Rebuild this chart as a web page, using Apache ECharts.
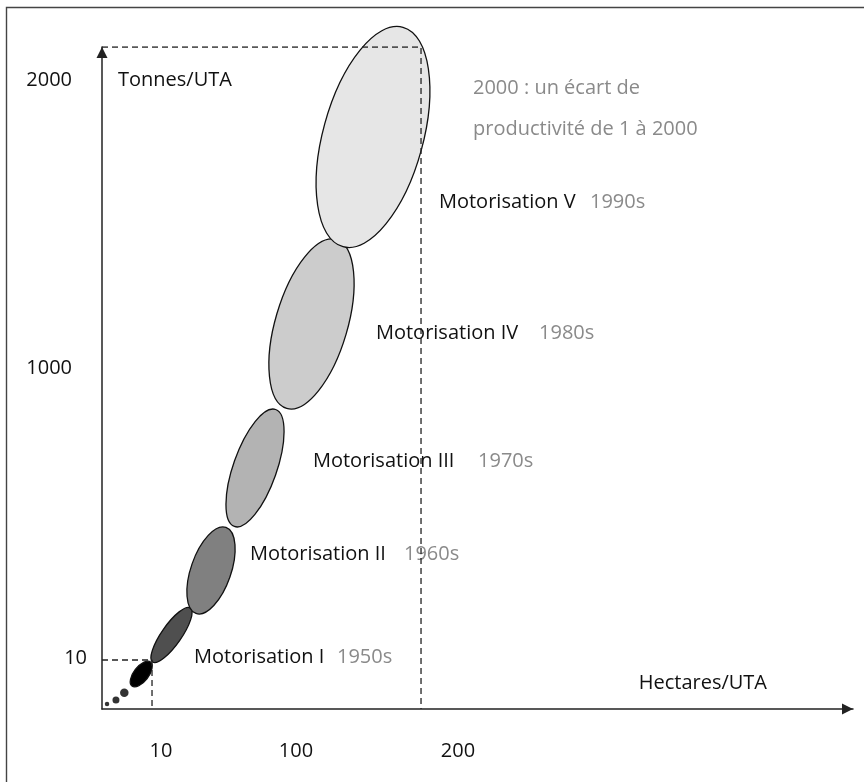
<!DOCTYPE html>
<html>
<head>
<meta charset="utf-8">
<script src="https://cdn.jsdelivr.net/npm/echarts@6.0.0/dist/echarts.min.js"></script>
<style>
  html, body { margin: 0; padding: 0; background: #fff; }
  #chart { width: 864px; height: 782px; }
</style>
</head>
<body>
<div id="chart"></div>
<script>
// diagram units: x = Hectares/UTA, y = Tonnes/UTA (schematic, 0..100 on each axis)
const stages = ['Motorisation I', 'Motorisation II', 'Motorisation III', 'Motorisation IV', 'Motorisation V'];
const decades = ['1950s', '1960s', '1970s', '1980s', '1990s'];

// each stage spreads along its long axis, from the low end to the high end
const stageFrom = [[6.74, 7.10], [12.52, 14.43], [17.63, 27.57], [24.59, 45.41], [32.09, 69.83]];
const stageTo = [[11.77, 15.26], [16.51, 27.42], [23.12, 45.24], [31.20, 70.91], [40.08, 102.98]];

// before motorisation: three dots and a small black ellipse
const earlyDots = [[0.67, 0.76], [1.86, 1.36], [2.97, 2.46]];
const earlyFrom = [3.99, 3.47];
const earlyTo = [6.46, 7.10];

// dashed guides: 1950s corner and 2000 corner
const corner1950 = [6.66, 7.40];
const corner2000 = [42.48, 100];

// tick labels
const xTickValues = [7.86, 25.83, 47.40];
const xTickLabels = ['10', '100', '200'];
const yTickValues = [7.7, 51.5, 95.0];
const yTickLabels = ['10', '1000', '2000'];

// ---- styles / layout ----
const FONT = 'Open Sans';
const ellipseFill = ['#000000', '#4f4f4f', '#808080', '#b3b3b3', '#cccccc', '#e6e6e6'];
const ellipseThickness = [0.49, 0.30, 0.44, 0.35, 0.41, 0.44]; // minor / major
const dotSizes = [4.5, 7, 8.5];
// where each label sits (name start, year start, vertical middle), diagram units
const labelAnchors = [
  [12.25, 31.29, 7.85],
  [19.71, 40.21, 23.41],
  [28.09, 50.07, 37.46],
  [36.48, 58.19, 56.80],
  [44.87, 64.98, 76.59]
];

const ellipseData = [earlyFrom.concat(earlyTo)].concat(
  stageFrom.map((p, i) => p.concat(stageTo[i]))
);

const chart = echarts.init(document.getElementById('chart'));

const option = {
  backgroundColor: '#fff',
  animation: false,
  textStyle: { fontFamily: FONT },
  grid: { left: 102, right: 11, top: 47, bottom: 73, containLabel: false, outerBoundsMode: 'none' },
  xAxis: {
    type: 'value',
    min: 0,
    max: 100,
    axisLine: {
      show: true,
      symbol: ['none', 'triangle'],
      symbolSize: [11, 11],
      symbolOffset: [0, -5.5],
      lineStyle: { color: '#222', width: 1.5 }
    },
    axisTick: { show: false },
    splitLine: { show: false },
    axisLabel: {
      customValues: xTickValues,
      margin: 32,
      fontFamily: FONT,
      fontSize: 20,
      color: '#111',
      formatter: v => xTickLabels[xTickValues.indexOf(v)]
    }
  },
  yAxis: {
    type: 'value',
    min: 0,
    max: 100,
    name: 'Tonnes/UTA',
    nameLocation: 'end',
    nameGap: -33,
    nameMoveOverlap: false,
    nameTextStyle: { fontFamily: FONT, fontSize: 20, color: '#111', align: 'left', verticalAlign: 'middle', padding: [0, 0, 0, 16] },
    axisLine: {
      show: true,
      symbol: ['none', 'triangle'],
      symbolSize: [11, 11],
      symbolOffset: [0, -5.5],
      lineStyle: { color: '#222', width: 1.5 }
    },
    axisTick: { show: false },
    splitLine: { show: false },
    axisLabel: {
      customValues: yTickValues,
      margin: 15,
      fontFamily: FONT,
      fontSize: 20,
      color: '#111',
      formatter: v => {
        const t = yTickLabels[yTickValues.indexOf(v)];
        return t.length > 2 ? '{wide|' + t + '}' : t;
      },
      rich: {
        wide: { fontFamily: FONT, fontSize: 20, color: '#111', padding: [0, 15, 0, 0] }
      }
    }
  },
  graphic: [
    {
      type: 'rect',
      silent: true,
      shape: { x: 6.5, y: 7.5, width: 1000, height: 1000 },
      style: { fill: 'none', stroke: '#444', lineWidth: 1.4 }
    },
    {
      type: 'text',
      x: 767, y: 683,
      style: { text: 'Hectares/UTA', font: '20px "Open Sans"', fill: '#111', textAlign: 'right', textVerticalAlign: 'middle' }
    },
    {
      type: 'text',
      x: 473, y: 88,
      style: { text: '2000 : un écart de', font: '20px "Open Sans"', fill: '#8a8a8a', textVerticalAlign: 'middle' }
    },
    {
      type: 'text',
      x: 473, y: 129,
      style: { text: 'productivité de 1 à 2000', font: '20px "Open Sans"', fill: '#8a8a8a', textVerticalAlign: 'middle' }
    }
  ],
  series: [
    {
      type: 'custom',
      name: 'stages',
      z: 2,
      data: ellipseData,
      renderItem: function (params, api) {
        const i = params.dataIndex;
        const p0 = api.coord([api.value(0), api.value(1)]);
        const p1 = api.coord([api.value(2), api.value(3)]);
        const dx = p1[0] - p0[0];
        const dy = p1[1] - p0[1];
        const half = Math.sqrt(dx * dx + dy * dy) / 2;
        return {
          type: 'ellipse',
          x: (p0[0] + p1[0]) / 2,
          y: (p0[1] + p1[1]) / 2,
          rotation: -Math.atan2(dy, dx),
          shape: { cx: 0, cy: 0, rx: half, ry: half * ellipseThickness[i] },
          style: { fill: ellipseFill[i], stroke: '#111', lineWidth: 1.3 }
        };
      }
    },
    {
      type: 'scatter',
      name: 'early',
      z: 2,
      data: earlyDots,
      symbol: 'circle',
      symbolSize: (val, p) => dotSizes[p.dataIndex],
      itemStyle: { color: '#000' }
    },
    {
      type: 'custom',
      name: 'labels',
      z: 3,
      data: stages.map((s, i) => [i]),
      renderItem: function (params, api) {
        const i = params.dataIndex;
        const a = labelAnchors[i];
        const pName = api.coord([a[0], a[2]]);
        const pYear = api.coord([a[1], a[2]]);
        return {
          type: 'group',
          children: [
            {
              type: 'text',
              x: pName[0], y: pName[1],
              style: { text: stages[i], font: '20px "Open Sans"', fill: '#111', textVerticalAlign: 'middle' }
            },
            {
              type: 'text',
              x: pYear[0], y: pYear[1],
              style: { text: decades[i], font: '20px "Open Sans"', fill: '#8a8a8a', textVerticalAlign: 'middle' }
            }
          ]
        };
      }
    },
    {
      type: 'line',
      name: 'guide1950',
      z: 5,
      symbol: 'none',
      data: [[0, corner1950[1]], corner1950, [corner1950[0], 0]],
      lineStyle: { color: '#222', width: 1.3, type: [6, 4] }
    },
    {
      type: 'line',
      name: 'guide2000',
      z: 5,
      symbol: 'none',
      data: [[0, corner2000[1]], corner2000, [corner2000[0], 0]],
      lineStyle: { color: '#222', width: 1.3, type: [6, 4] }
    }
  ]
};

chart.setOption(option);
</script>
</body>
</html>
